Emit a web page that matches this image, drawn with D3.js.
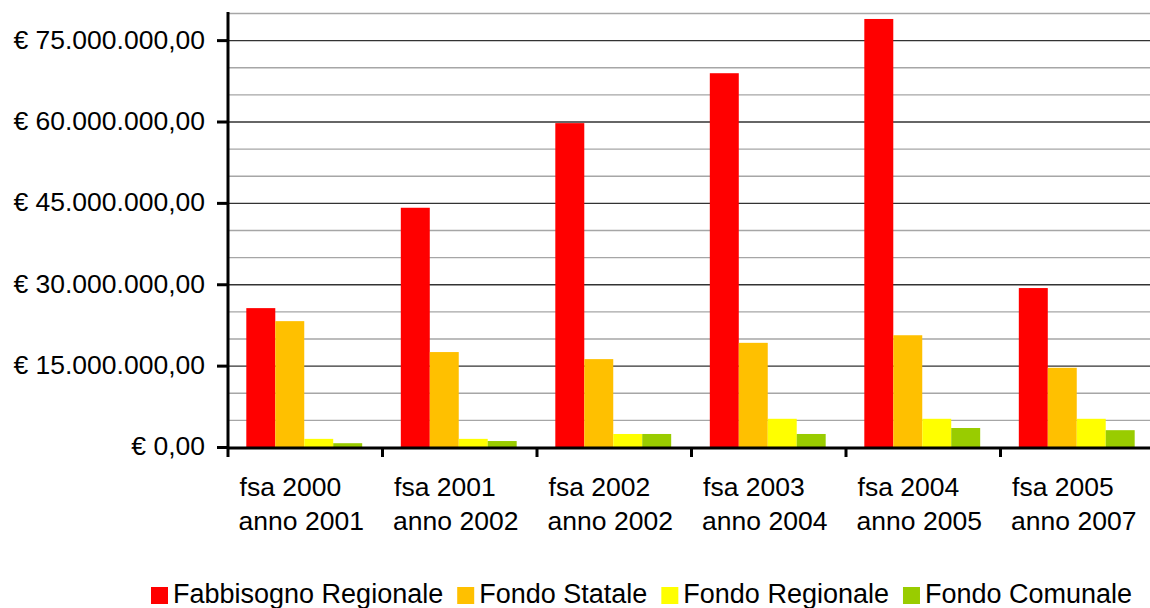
<!DOCTYPE html>
<html lang="it">
<head>
<meta charset="utf-8">
<title>Fabbisogno e fondi</title>
<script src="https://d3js.org/d3.v7.min.js"></script>
<style>
  body { margin: 0; background: #fff; }
  text { font-family: "Liberation Sans", Arial, sans-serif; fill: #000; }
</style>
</head>
<body>
<svg width="1150" height="608"></svg>
<script>
// data
var categories = [
  ["fsa 2000", "anno 2001"],
  ["fsa 2001", "anno 2002"],
  ["fsa 2002", "anno 2002"],
  ["fsa 2003", "anno 2004"],
  ["fsa 2004", "anno 2005"],
  ["fsa 2005", "anno 2007"]
];
var seriesNames = ["Fabbisogno Regionale", "Fondo Statale", "Fondo Regionale", "Fondo Comunale"];
var seriesColors = ["#ff0000", "#ffc000", "#ffff00", "#99cc00"];
var fabbisognoRegionale = [25600000, 44100000, 59700000, 68900000, 78900000, 29300000];
var fondoStatale        = [23200000, 17500000, 16200000, 19200000, 20600000, 14600000];
var fondoRegionale      = [1500000, 1500000, 2400000, 5200000, 5200000, 5200000];
var fondoComunale       = [700000, 1100000, 2400000, 2400000, 3500000, 3100000];
var yTicks = [0, 15000000, 30000000, 45000000, 60000000, 75000000];

var series = [fabbisognoRegionale, fondoStatale, fondoRegionale, fondoComunale];

var svg = d3.select("svg"),
    plotLeft = 228,
    plotRight = 1155,
    plotTop = 13,
    plotBottom = 447;

var x0 = d3.scaleBand()
    .domain(d3.range(categories.length))
    .range([plotLeft, plotRight])
    .paddingInner(0.25)
    .paddingOuter(0.125);

var x1 = d3.scaleBand()
    .domain(d3.range(series.length))
    .range([0, x0.bandwidth()]);

var y = d3.scaleLinear().domain([0, 80000000]).range([plotBottom, plotTop]);

var fmt = function(v) {
  var s = d3.format(",.2f")(v);
  // italian style: dots for thousands, comma for decimals
  s = s.replace(/,/g, "#").replace(".", ",").replace(/#/g, ".");
  return "€ " + s;
};

// gridlines every 5 milioni
var grid = svg.append("g");
grid.selectAll("line")
  .data(d3.range(5000000, 80000001, 5000000))
  .enter().append("line")
  .attr("x1", plotLeft).attr("x2", 1150)
  .attr("y1", function(d) { return y(d) + 0.5; })
  .attr("y2", function(d) { return y(d) + 0.5; })
  .attr("stroke", function(d) { return d % 15000000 === 0 ? "#333" : "#a6a6a6"; })
  .attr("stroke-width", 1.3);

// bars
var groups = svg.append("g").selectAll("g")
  .data(categories)
  .enter().append("g")
  .attr("transform", function(d, i) { return "translate(" + (x0(i) - 1) + ",0)"; });

groups.selectAll("rect")
  .data(function(d, i) { return series.map(function(s, j) { return { j: j, v: s[i] }; }); })
  .enter().append("rect")
  .attr("x", function(d) { return x1(d.j); })
  .attr("width", x1.bandwidth())
  .attr("y", function(d) { return y(d.v); })
  .attr("height", function(d) { return plotBottom - y(d.v); })
  .attr("fill", function(d) { return seriesColors[d.j]; });

// y axis
var yAxis = svg.append("g")
  .attr("transform", "translate(" + plotLeft + ",0)")
  .call(d3.axisLeft(y).tickValues(yTicks).tickFormat(fmt).tickSize(11).tickPadding(12));
yAxis.select(".domain").remove();
yAxis.selectAll(".tick line").attr("stroke", "#000").attr("stroke-width", 3);
yAxis.selectAll(".tick text")
  .attr("font-size", "26.5px")
  .attr("font-family", "Liberation Sans, Arial, sans-serif")
  .attr("dy", "0.3em");
svg.append("line")
  .attr("x1", plotLeft).attr("x2", plotLeft)
  .attr("y1", plotTop - 1).attr("y2", plotBottom + 10)
  .attr("stroke", "#000").attr("stroke-width", 3);

// x axis
svg.append("line")
  .attr("x1", plotLeft).attr("x2", 1150)
  .attr("y1", plotBottom + 1).attr("y2", plotBottom + 1)
  .attr("stroke", "#000").attr("stroke-width", 3);
svg.append("g").selectAll("line")
  .data(d3.range(1, categories.length))
  .enter().append("line")
  .attr("x1", function(d) { return x0(d) - x0.step() * 0.125; })
  .attr("x2", function(d) { return x0(d) - x0.step() * 0.125; })
  .attr("y1", plotBottom).attr("y2", plotBottom + 10)
  .attr("stroke", "#000").attr("stroke-width", 3);

// category labels (two lines, first line starts where the second starts)
var labels = svg.append("g").selectAll("g")
  .data(categories)
  .enter().append("g");
labels.each(function(d, i) {
  var g = d3.select(this),
      cx = x0(i) + x0.bandwidth() / 2;
  var l2 = g.append("text")
    .attr("x", cx - 4).attr("y", 530)
    .attr("text-anchor", "middle")
    .attr("font-size", "26.5px")
    .text(d[1]);
  var w2 = l2.node().getComputedTextLength();
  g.append("text")
    .attr("x", cx - 4 - w2 / 2 + 1).attr("y", 496)
    .attr("font-size", "26.5px")
    .text(d[0]);
});

// legend
var lx = 151;
seriesNames.forEach(function(name, i) {
  svg.append("rect")
    .attr("x", lx).attr("y", 587)
    .attr("width", 17).attr("height", 17)
    .attr("fill", seriesColors[i]);
  var t = svg.append("text")
    .attr("x", lx + 22).attr("y", 603)
    .attr("font-size", "27px")
    .text(name);
  lx += 22 + t.node().getComputedTextLength() + 14;
});
</script>
</body>
</html>
